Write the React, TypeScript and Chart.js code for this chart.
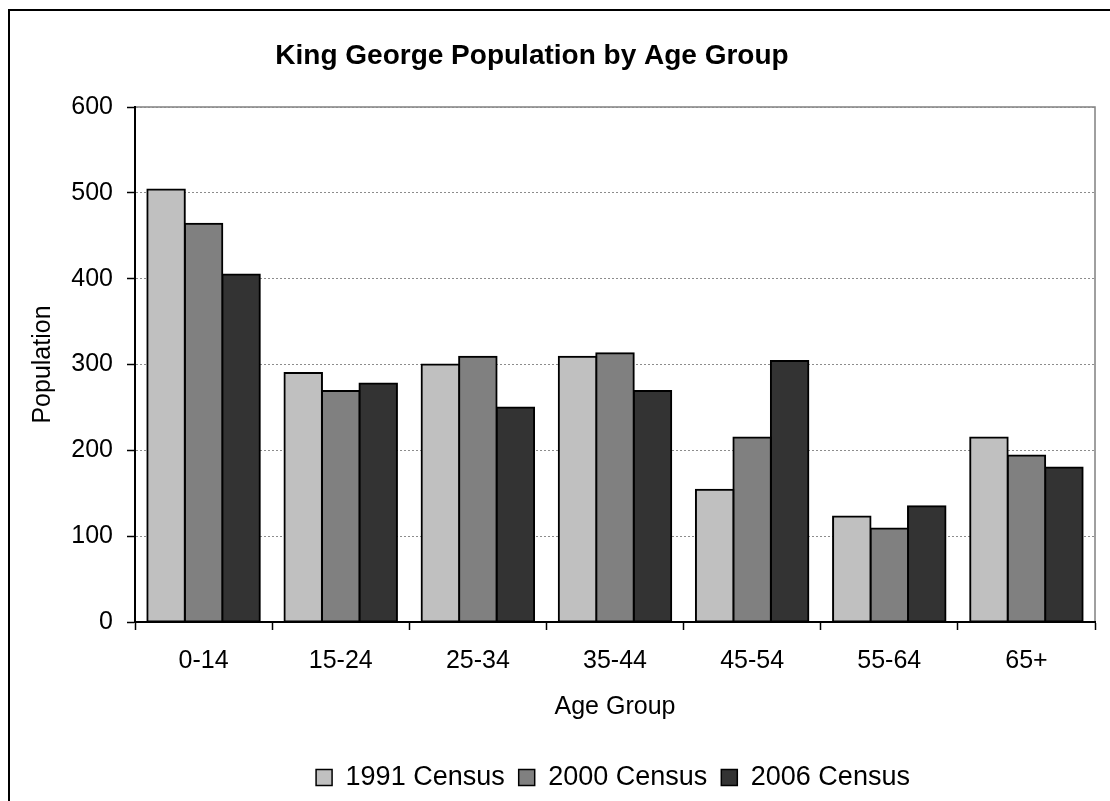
import React, { useEffect, useRef } from "react";
import { Chart, registerables } from "chart.js";

Chart.register(...registerables);

const TITLE = "King George Population by Age Group";
const AGE_GROUPS = ["0-14", "15-24", "25-34", "35-44", "45-54", "55-64", "65+"];
const SERIES_NAMES = ["1991 Census", "2000 Census", "2006 Census"];
const CENSUS_1991 = [504, 290, 300, 309, 154, 123, 215];
const CENSUS_2000 = [464, 269, 309, 313, 215, 109, 194];
const CENSUS_2006 = [405, 278, 250, 269, 304, 135, 180];
const Y_TICKS = [0, 100, 200, 300, 400, 500, 600];
const COLORS = ["#c0c0c0", "#808080", "#333333"];

const FONT = "'Liberation Sans', Arial, Helvetica, sans-serif";

const plotFramePlugin = {
  id: "plotFrame",
  beforeDraw(chart: any) {
    const { ctx, chartArea } = chart;
    ctx.save();
    ctx.strokeStyle = "#808080";
    ctx.lineWidth = 1.5;
    ctx.strokeRect(chartArea.left, chartArea.top, chartArea.right - chartArea.left, chartArea.bottom - chartArea.top);
    ctx.restore();
  },
};

const placePlugin = {
  id: "placeBoxes",
  afterLayout(chart: any) {
    const t = chart.titleBlock;
    if (t) {
      t.left = 0;
      t.right = 1044;
    }
    const l = chart.legend;
    if (l) {
      l.left = 103;
      l.right = 1103;
    }
  },
};

export default function App() {
  const canvasRef = useRef<HTMLCanvasElement | null>(null);

  useEffect(() => {
    if (!canvasRef.current) return;
    const series = [CENSUS_1991, CENSUS_2000, CENSUS_2006];
    const chart = new Chart(canvasRef.current, {
      type: "bar",
      data: {
        labels: AGE_GROUPS,
        datasets: series.map((values, i) => ({
          label: SERIES_NAMES[i],
          data: values,
          backgroundColor: COLORS[i],
          borderColor: "#000000",
          borderWidth: 2,
          borderSkipped: false,
          inflateAmount: 1,
          categoryPercentage: 0.82,
          barPercentage: 1,
        })),
      },
      options: {
        animation: false,
        responsive: false,
        layout: { padding: { left: 0, right: 15, top: 0, bottom: 0 } },
        plugins: {
          title: {
            display: true,
            text: TITLE,
            color: "#000",
            font: { family: FONT, size: 28, weight: "bold", lineHeight: 1.2 },
            padding: { top: 28.2, bottom: 34.2 },
          },
          legend: {
            display: true,
            position: "bottom",
            labels: {
              color: "#000",
              font: { family: FONT, size: 27 },
              boxWidth: 16,
              boxHeight: 16,
              padding: 14,
              generateLabels: (c: any) =>
                Chart.defaults.plugins.legend.labels.generateLabels(c).map((it: any) => ({ ...it, lineWidth: 1.5, strokeStyle: "#000" })),
            },
          },
          tooltip: { enabled: false },
        },
        scales: {
          x: {
            grid: {
              display: true,
              drawOnChartArea: false,
              drawTicks: true,
              tickLength: 8,
              tickColor: "#000",
              tickWidth: 1.5,
              offset: true,
            },
            border: { display: true, color: "#000", width: 2 },
            ticks: {
              color: "#000",
              font: { family: FONT, size: 25 },
              padding: 16,
              maxRotation: 0,
            },
            title: {
              display: true,
              text: "Age Group",
              color: "#000",
              font: { family: FONT, size: 25, lineHeight: 1.2 },
              padding: { top: 0, bottom: 28 },
            },
            afterFit: (scale: any) => {
              scale.height = 128;
            },
          },
          y: {
            min: 0,
            max: 600,
            afterBuildTicks: (scale: any) => {
              scale.ticks = Y_TICKS.map((v) => ({ value: v }));
            },
            grid: {
              color: (ctx: any) => (ctx.tick && ctx.tick.value === 0 ? "rgba(0,0,0,0)" : "#8c8c8c"),
              lineWidth: 1,
              borderDash: [2, 2],
              drawTicks: true,
              tickLength: 8,
              tickColor: "#000",
              tickWidth: 1.5,
              tickBorderDash: [],
            },
            border: { display: true, color: "#000", width: 2, dash: [2, 2] },
            ticks: {
              color: "#000",
              font: { family: FONT, size: 25 },
              padding: 14,
            },
            title: {
              display: true,
              text: "Population",
              color: "#000",
              font: { family: FONT, size: 25, lineHeight: 1.2 },
              padding: { top: 18, bottom: 0 },
            },
            afterFit: (scale: any) => {
              scale.width = 125;
            },
          },
        },
      },
      plugins: [plotFramePlugin, placePlugin],
    } as any);
    return () => chart.destroy();
  }, []);

  return (
    <div
      style={{
        position: "fixed",
        left: 8,
        top: 9,
        width: 1102,
        height: 792,
        borderLeft: "2px solid #000",
        borderTop: "2px solid #000",
        boxSizing: "border-box",
        background: "#fff",
        overflow: "hidden",
      }}
    >
      <canvas ref={canvasRef} width={1100} height={790} style={{ display: "block", width: 1100, height: 790 }} />
    </div>
  );
}
